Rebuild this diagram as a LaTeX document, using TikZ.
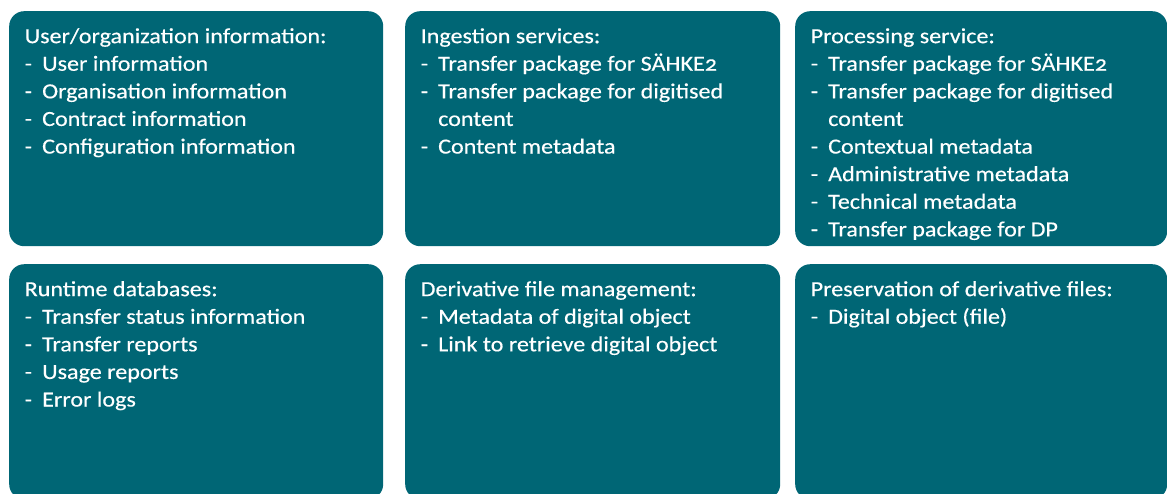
\documentclass[tikz,border=0pt]{standalone}
\usepackage{fontspec}
\setmainfont{Carlito}[Numbers=OldStyle, FakeStretch=1.12, FakeBold=0.4]
\usepackage{tikz}
\usepackage{xcolor}

\definecolor{panelteal}{RGB}{0,102,117}
\newcommand{\itm}[1]{\makebox[17.5pt][l]{-}#1}
\newcommand{\cont}[1]{\hspace*{17.5pt}#1}

\tikzset{
  panel/.style={fill=panelteal, rounded corners=15pt, anchor=north west,
                inner sep=0pt, minimum width=374pt, minimum height=235pt},
  paneltext/.style={anchor=north west, align=left, inner sep=0pt, text=white,
                    font=\fontsize{21.5}{27.6}\selectfont,
                    xshift=15.5pt, yshift=-12.6pt}
}

\begin{document}
\begin{tikzpicture}[x=1pt, y=-1pt]
        \useasboundingbox (0,0) rectangle (1167,493);
        \clip (0,0) rectangle (1167,493);

        \node[panel] (user) at (9,11) {};
        \node[panel, minimum width=375pt] (ingest) at (405,11) {};
        \node[panel, minimum width=372pt] (process) at (795,11) {};
        \node[panel] (runtime) at (9,264) {};
        \node[panel, minimum width=375pt] (deriv) at (405,264) {};
        \node[panel, minimum width=372pt] (preserve) at (795,264) {};

        \node[paneltext] (usertext) at (user.north west) {\strut User/organization information:\\
          \itm{User information}\\ \itm{Organisation information}\\
          \itm{Contract information}\\ \itm{Configuration information}};
        \node[paneltext] (ingesttext) at (ingest.north west) {\strut Ingestion services:\\
          \itm{Transfer package for SÄHKE2}\\ \itm{Transfer package for digitised}\\
          \cont{content}\\ \itm{Content metadata}};
        \node[paneltext] (processtext) at (process.north west) {\strut Processing service:\\
          \itm{Transfer package for SÄHKE2}\\ \itm{Transfer package for digitised}\\
          \cont{content}\\ \itm{Contextual metadata}\\ \itm{Administrative metadata}\\
          \itm{Technical metadata}\\ \itm{Transfer package for DP}};
        \node[paneltext] (runtimetext) at (runtime.north west) {\strut Runtime databases:\\
          \itm{Transfer status information}\\ \itm{Transfer reports}\\
          \itm{Usage reports}\\ \itm{Error logs}};
        \node[paneltext] (derivtext) at (deriv.north west) {\strut Derivative file management:\\
          \itm{Metadata of digital object}\\ \itm{Link to retrieve digital object}};
        \node[paneltext] (preservetext) at (preserve.north west) {\strut Preservation of derivative files:\\
          \itm{Digital object (file)}};
      \end{tikzpicture}
\end{document}
